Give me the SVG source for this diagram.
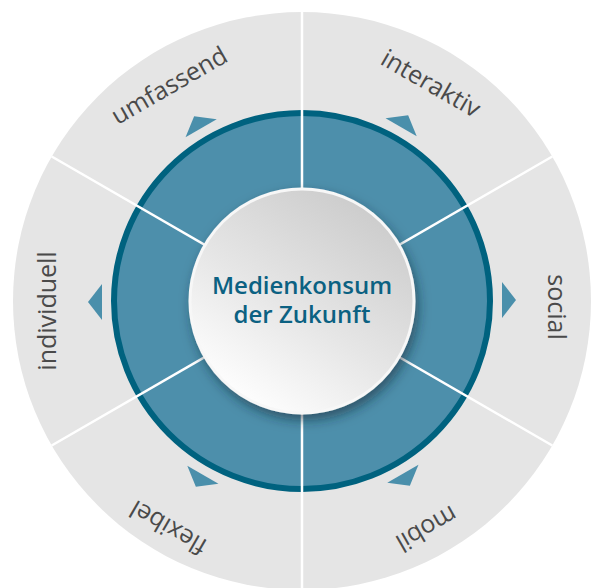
<svg xmlns="http://www.w3.org/2000/svg" width="591" height="588" viewBox="0 0 591 588">
<defs>
<linearGradient id="cg" x1="0.8" y1="0.05" x2="0.2" y2="0.95">
<stop offset="0" stop-color="#cbcbcb"/>
<stop offset="0.55" stop-color="#e6e6e6"/>
<stop offset="1" stop-color="#ffffff"/>
</linearGradient>
<filter id="sh" x="-30%" y="-30%" width="160%" height="160%">
<feDropShadow dx="3" dy="6" stdDeviation="6" flood-color="#0d2a36" flood-opacity="0.55"/>
</filter>
<style>
.lbl{font-family:"Open Sans","Liberation Sans",sans-serif;font-size:25px;fill:#4a4a4a;text-anchor:middle}
.ctr{font-family:"Open Sans","Liberation Sans",sans-serif;font-size:24px;font-weight:600;fill:#0b6182;text-anchor:middle}
.tri{fill:#4a8fab}
.div{stroke:#ffffff;stroke-width:2.5}
</style>
</defs>
<rect width="591" height="588" fill="#ffffff"/>
<circle cx="302" cy="301" r="289" fill="#e5e5e5"/>
<circle cx="302" cy="301" r="188" fill="#4d8fab" stroke="#00627f" stroke-width="6"/>
<g id="connectors">
<line class="div" x1="302" y1="12" x2="302" y2="590"/>
<line class="div" x1="51.7" y1="156.5" x2="552.3" y2="445.5"/>
<line class="div" x1="51.7" y1="445.5" x2="552.3" y2="156.5"/>
</g>
<g id="arrows">
<polygon class="tri" points="502,282 502,318 516,300" transform="rotate(0 302 301)"/>
<polygon class="tri" points="502,282 502,318 516,300" transform="rotate(-60 302 301)"/>
<polygon class="tri" points="502,282 502,318 516,300" transform="rotate(-120 302 301)"/>
<polygon class="tri" points="502,282 502,318 516,300" transform="rotate(180 302 301)"/>
<polygon class="tri" points="502,282 502,318 516,300" transform="rotate(120 302 301)"/>
<polygon class="tri" points="502,282 502,318 516,300" transform="rotate(60 302 301)"/>
</g>
<g id="center">
<circle cx="302" cy="301" r="112" fill="url(#cg)" stroke="#f7f7f7" stroke-width="3" filter="url(#sh)"/>
<text class="ctr" x="302" y="294">Medienkonsum<tspan x="302" dy="29">der Zukunft</tspan></text>
</g>
<g id="interaktiv"><text class="lbl" transform="translate(304 303) rotate(30) translate(0 -245)">interaktiv</text></g>
<g id="social"><text class="lbl" transform="translate(302 307) rotate(90) translate(0 -246)">social</text></g>
<g id="mobil"><text class="lbl" transform="translate(300 309) rotate(150) translate(0 -245)">mobil</text></g>
<g id="flexibel"><text class="lbl" transform="translate(295 308) rotate(210) translate(0 -245)">flexibel</text></g>
<g id="individuell"><text class="lbl" transform="translate(302 311) rotate(270) translate(0 -246)">individuell</text></g>
<g id="umfassend"><text class="lbl" transform="translate(296 305) rotate(330) translate(0 -245)">umfassend</text></g>
</svg>
